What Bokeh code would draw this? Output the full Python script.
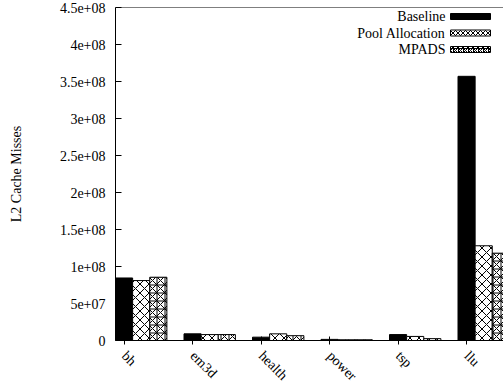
import numpy as np
from bokeh.plotting import figure
from bokeh.models import FixedTicker, Range1d, Span, Label, BoxAnnotation, ColumnDataSource
from bokeh.embed import file_html
from bokeh.resources import INLINE

categories = ["bh", "em3d", "health", "power", "tsp", "llu"]
baseline = [8.45e7, 9.0e6, 4.5e6, 1.5e6, 8.0e6, 3.57e8]
pool_alloc = [8.1e7, 8.0e6, 9.0e6, 1.0e6, 5.5e6, 1.28e8]
mpads = [8.55e7, 8.0e6, 6.5e6, 1.0e6, 2.5e6, 1.18e8]
series_names = ["Baseline", "Pool Allocation", "MPADS"]
ytick_values = [0, 5e7, 1e8, 1.5e8, 2e8, 2.5e8, 3e8, 3.5e8, 4e8, 4.5e8]
ytick_labels = ["0", "5e+07", "1e+08", "1.5e+08", "2e+08", "2.5e+08", "3e+08", "3.5e+08", "4e+08", "4.5e+08"]

FONT = "Liberation Serif"
BW = 0.25
TOP, BOTTOM, LEFT = 7, 340, 115

p = figure(width=503, height=391, output_backend="svg", toolbar_location=None,
           x_range=Range1d(-0.125, -0.125 + (503 - LEFT) / 68.5), y_range=Range1d(0, 4.5e8),
           min_border_left=LEFT, min_border_right=0, min_border_top=TOP,
           min_border_bottom=391 - BOTTOM)
p.grid.visible = False
p.outline_line_color = None
p.background_fill_color = "white"

idx = np.arange(len(categories))
styles = [
    dict(fill_color="black", hatch_pattern=None),
    dict(fill_color="white", hatch_pattern="x", hatch_scale=9, hatch_weight=1, hatch_color="black"),
    dict(fill_color="white", hatch_pattern="*", hatch_scale=8, hatch_weight=1, hatch_color="black"),
]
for k, vals in enumerate([baseline, pool_alloc, mpads]):
    src = ColumnDataSource(dict(x=idx + k * BW, top=vals))
    st = styles[k]
    kw = dict(fill_color=st["fill_color"], line_color="black", line_width=1)
    if st["hatch_pattern"]:
        kw.update(hatch_pattern=st["hatch_pattern"], hatch_scale=st["hatch_scale"],
                  hatch_weight=st["hatch_weight"], hatch_color=st["hatch_color"])
    p.vbar(x="x", top="top", bottom=0, width=BW, source=src, **kw)

# top border
p.add_layout(Span(location=4.5e8, dimension="width", line_color="black", line_width=1))

# axes
p.yaxis.ticker = FixedTicker(ticks=ytick_values)
p.yaxis.major_label_overrides = {v: l for v, l in zip(ytick_values, ytick_labels)}
p.yaxis.minor_tick_line_color = None
p.yaxis.major_tick_in = 6
p.yaxis.major_tick_out = 0
p.yaxis.major_label_standoff = 10
p.yaxis.axis_label = "L2 Cache Misses"
p.yaxis.axis_label_standoff = 33
for ax in (p.xaxis, p.yaxis):
    ax.major_label_text_font = FONT
    ax.major_label_text_font_size = "14px"
    ax.major_label_text_color = "black"
    ax.axis_line_color = "black"
    ax.major_tick_line_color = "black"
    ax.axis_label_text_font = FONT
    ax.axis_label_text_font_size = "14px"
    ax.axis_label_text_font_style = "normal"
    ax.axis_label_text_color = "black"

p.xaxis.ticker = FixedTicker(ticks=list(idx))
p.xaxis.major_label_overrides = {int(i): c for i, c in zip(idx, categories)}
p.xaxis.minor_tick_line_color = None
p.xaxis.major_tick_in = 4
p.xaxis.major_tick_out = 4
p.xaxis.major_label_orientation = -np.pi / 4
p.xaxis.major_label_standoff = 9

# legend (gnuplot style: text right-aligned, sample to the right)
def py2y(py):
    return 4.5e8 - (py - TOP) * 4.5e8 / (BOTTOM - TOP)

def px2x(px):
    return -0.125 + (px - LEFT) / 68.5

rows = [16, 32.5, 49]
for name, st, r in zip(series_names, styles, rows):
    p.add_layout(Label(x=px2x(445), y=py2y(r), text=name, text_align="right",
                       text_baseline="middle", text_font=FONT, text_font_size="14px",
                       text_color="black"))
    kw = dict(left=px2x(450), right=px2x(490), top=py2y(r - 3), bottom=py2y(r + 3),
              fill_color=st["fill_color"], fill_alpha=1, line_color="black", line_alpha=1,
              line_width=1)
    if st["hatch_pattern"]:
        kw.update(hatch_pattern=st["hatch_pattern"], hatch_scale=5, hatch_weight=1,
                  hatch_color="black")
    p.add_layout(BoxAnnotation(**kw))

open("out.html", "w").write(file_html(p, INLINE))
